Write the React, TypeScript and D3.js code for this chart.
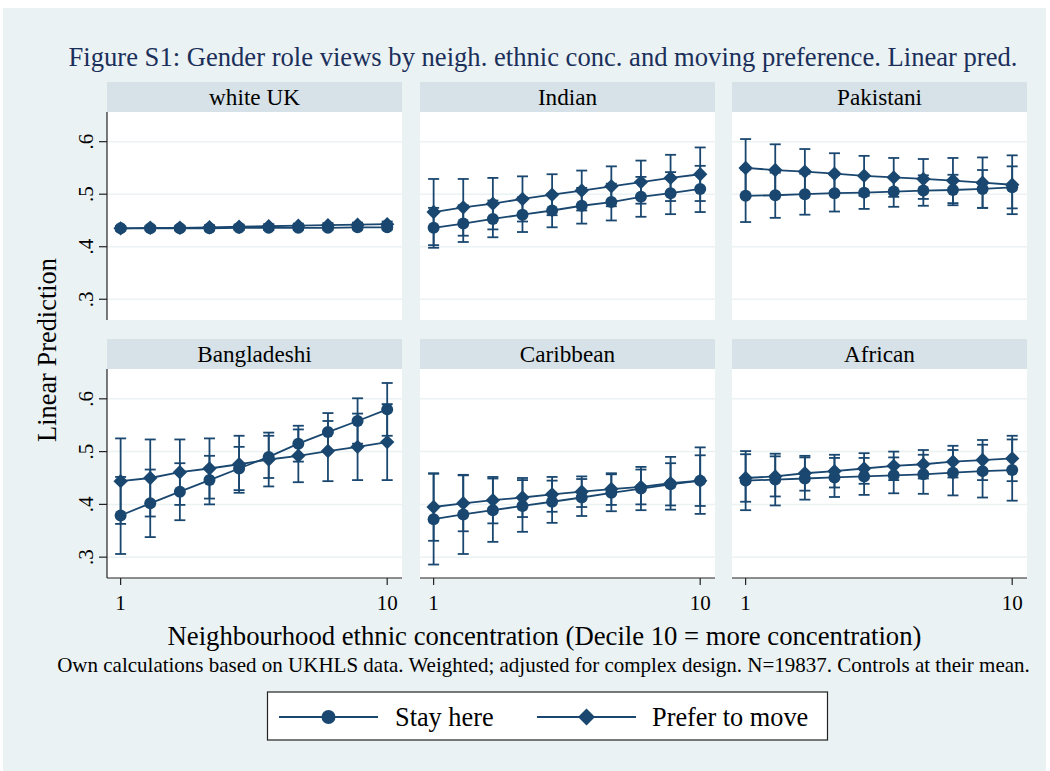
import React from "react";
import * as d3 from "d3";

// Deciles of neighbourhood ethnic concentration
const deciles = [1, 2, 3, 4, 5, 6, 7, 8, 9, 10];
const groups = ["white UK", "Indian", "Pakistani", "Bangladeshi", "Caribbean", "African"];
const yTicks = [0.3, 0.4, 0.5, 0.6];
const xTicks = [1, 10];

// Linear predictions (stay here / prefer to move) and 95% CI half-widths
const whiteUKStay = [0.435, 0.435, 0.435, 0.435, 0.436, 0.436, 0.436, 0.436, 0.437, 0.437];
const whiteUKStayCI = [0.004, 0.004, 0.004, 0.004, 0.004, 0.004, 0.004, 0.004, 0.004, 0.004];
const whiteUKMove = [0.435, 0.436, 0.436, 0.437, 0.438, 0.439, 0.44, 0.441, 0.442, 0.443];
const whiteUKMoveCI = [0.004, 0.004, 0.004, 0.004, 0.004, 0.004, 0.004, 0.004, 0.004, 0.005];

const indianStay = [0.436, 0.444, 0.453, 0.461, 0.469, 0.478, 0.485, 0.495, 0.502, 0.51];
const indianStayCI = [0.038, 0.035, 0.035, 0.033, 0.032, 0.034, 0.035, 0.038, 0.04, 0.044];
const indianMove = [0.466, 0.475, 0.482, 0.491, 0.499, 0.507, 0.515, 0.523, 0.531, 0.538];
const indianMoveCI = [0.063, 0.054, 0.049, 0.043, 0.039, 0.038, 0.038, 0.041, 0.044, 0.051];

const pakistaniStay = [0.497, 0.498, 0.5, 0.502, 0.503, 0.505, 0.507, 0.508, 0.51, 0.513];
const pakistaniStayCI = [0.05, 0.043, 0.039, 0.035, 0.031, 0.029, 0.029, 0.029, 0.036, 0.04];
const pakistaniMove = [0.55, 0.546, 0.543, 0.539, 0.535, 0.532, 0.529, 0.526, 0.522, 0.518];
const pakistaniMoveCI = [0.055, 0.049, 0.043, 0.039, 0.038, 0.037, 0.038, 0.043, 0.048, 0.056];

const bangladeshiStay = [0.379, 0.402, 0.424, 0.446, 0.468, 0.49, 0.515, 0.537, 0.558, 0.58];
const bangladeshiStayCI = [0.073, 0.064, 0.054, 0.046, 0.041, 0.04, 0.034, 0.036, 0.043, 0.05];
const bangladeshiMove = [0.444, 0.45, 0.461, 0.468, 0.476, 0.485, 0.492, 0.501, 0.509, 0.518];
const bangladeshiMoveCI = [0.081, 0.073, 0.062, 0.057, 0.054, 0.051, 0.05, 0.057, 0.063, 0.072];

const caribbeanStay = [0.372, 0.381, 0.389, 0.397, 0.405, 0.413, 0.422, 0.43, 0.438, 0.445];
const caribbeanStayCI = [0.086, 0.075, 0.06, 0.049, 0.04, 0.035, 0.035, 0.041, 0.04, 0.048];
const caribbeanMove = [0.395, 0.402, 0.408, 0.413, 0.419, 0.424, 0.429, 0.433, 0.44, 0.445];
const caribbeanMoveCI = [0.064, 0.053, 0.044, 0.037, 0.033, 0.029, 0.03, 0.033, 0.05, 0.063];

const africanStay = [0.445, 0.447, 0.449, 0.451, 0.453, 0.455, 0.457, 0.46, 0.463, 0.465];
const africanStayCI = [0.056, 0.049, 0.04, 0.037, 0.035, 0.034, 0.037, 0.043, 0.05, 0.058];
const africanMove = [0.45, 0.453, 0.459, 0.463, 0.468, 0.473, 0.476, 0.481, 0.484, 0.487];
const africanMoveCI = [0.045, 0.038, 0.033, 0.031, 0.029, 0.027, 0.027, 0.03, 0.038, 0.043];

const stayByGroup = [whiteUKStay, indianStay, pakistaniStay, bangladeshiStay, caribbeanStay, africanStay];
const stayCIByGroup = [whiteUKStayCI, indianStayCI, pakistaniStayCI, bangladeshiStayCI, caribbeanStayCI, africanStayCI];
const moveByGroup = [whiteUKMove, indianMove, pakistaniMove, bangladeshiMove, caribbeanMove, africanMove];
const moveCIByGroup = [whiteUKMoveCI, indianMoveCI, pakistaniMoveCI, bangladeshiMoveCI, caribbeanMoveCI, africanMoveCI];

const W = 1050;
const H = 771;
const NAVY = "#1a476f";
const BG = "#eaf2f3";
const STRIP = "#d6e2e7";
const FONT = "'Liberation Serif', 'Times New Roman', serif";

const colLeft = [107, 420, 732];
const panelW = 295;
const stripTop = [82, 339];
const stripH = 30;
const plotTop = [112, 369];
const plotBottom = [320, 578];

const diamond = (r: number) => `M0,${-r}L${r},0L0,${r}L${-r},0Z`;

function Series({ x, y, vals, ci, kind }: any) {
  const line = d3
    .line<number>()
    .x((_, i) => x(deciles[i]))
    .y((v) => y(v));
  const cap = 5.5;
  return (
    <g>
      {vals.map((v: number, i: number) => {
        const cx = x(deciles[i]);
        const lo = y(v - ci[i]);
        const hi = y(v + ci[i]);
        return (
          <g key={i} stroke={NAVY} strokeWidth={1.8}>
            <line x1={cx} x2={cx} y1={lo} y2={hi} />
            <line x1={cx - cap} x2={cx + cap} y1={lo} y2={lo} />
            <line x1={cx - cap} x2={cx + cap} y1={hi} y2={hi} />
          </g>
        );
      })}
      <path d={line(vals) || ""} fill="none" stroke={NAVY} strokeWidth={1.8} />
      {vals.map((v: number, i: number) =>
        kind === "circle" ? (
          <circle key={i} cx={x(deciles[i])} cy={y(v)} r={6} fill={NAVY} />
        ) : (
          <path key={i} d={diamond(7.2)} transform={`translate(${x(deciles[i])},${y(v)})`} fill={NAVY} />
        )
      )}
    </g>
  );
}

function Panel({ gi }: { gi: number }) {
  const row = Math.floor(gi / 3);
  const col = gi % 3;
  const left = colLeft[col];
  const x = d3.scaleLinear().domain([0.54, 10.5]).range([left, left + panelW]);
  const y = d3.scaleLinear().domain([0.2605, 0.6565]).range([plotBottom[row], plotTop[row]]);
  const top = plotTop[row];
  const bottom = plotBottom[row];
  return (
    <g>
      <rect x={left} y={stripTop[row]} width={panelW} height={stripH} fill={STRIP} />
      <text
        x={left + panelW / 2}
        y={stripTop[row] + 23}
        textAnchor="middle"
        fontFamily={FONT}
        fontSize={23.2}
        fill="#000"
      >
        {groups[gi]}
      </text>
      <rect x={left} y={top} width={panelW} height={bottom - top} fill="#fff" />
      {yTicks.map((t) => (
        <line key={t} x1={left} x2={left + panelW} y1={y(t)} y2={y(t)} stroke={BG} strokeWidth={1.5} />
      ))}
      {col === 0 && (
        <g>
          <line x1={left} x2={left} y1={top} y2={bottom} stroke="#222" strokeWidth={1.2} />
          {yTicks.map((t) => (
            <g key={t}>
              <line x1={left - 8} x2={left} y1={y(t)} y2={y(t)} stroke="#222" strokeWidth={1.2} />
              <text
                transform={`translate(${left - 14},${y(t)}) rotate(-90)`}
                textAnchor="middle"
                fontFamily={FONT}
                fontSize={21}
                fill="#000"
              >
                {String(t).replace(/^0/, "")}
              </text>
            </g>
          ))}
        </g>
      )}
      {row === 1 && (
        <g>
          <line x1={left} x2={left + panelW} y1={bottom} y2={bottom} stroke="#222" strokeWidth={1.2} />
          {xTicks.map((t) => (
            <g key={t}>
              <line x1={x(t)} x2={x(t)} y1={bottom} y2={bottom + 7} stroke="#222" strokeWidth={1.2} />
              <text x={x(t)} y={bottom + 32} textAnchor="middle" fontFamily={FONT} fontSize={21} fill="#000">
                {t}
              </text>
            </g>
          ))}
        </g>
      )}
      <Series x={x} y={y} vals={stayByGroup[gi]} ci={stayCIByGroup[gi]} kind="circle" />
      <Series x={x} y={y} vals={moveByGroup[gi]} ci={moveCIByGroup[gi]} kind="diamond" />
    </g>
  );
}

export default function App() {
  return (
    <svg
      width={W}
      height={H}
      style={{ position: "absolute", left: 0, top: 0, display: "block" }}
      xmlns="http://www.w3.org/2000/svg"
    >
      <rect x={0} y={0} width={W} height={H} fill="#fff" />
      <rect x={3} y={8} width={1043} height={H - 8} fill={BG} />
      <text x={543} y={66} textAnchor="middle" fontFamily={FONT} fontSize={26.6} fill="#1a2f5a">
        Figure S1: Gender role views by neigh. ethnic conc. and moving preference. Linear pred.
      </text>
      <text
        transform="translate(56,350) rotate(-90)"
        textAnchor="middle"
        fontFamily={FONT}
        fontSize={26.4}
        fill="#000"
      >
        Linear Prediction
      </text>
      {groups.map((_, gi) => (
        <Panel key={gi} gi={gi} />
      ))}
      <text x={544.5} y={645} textAnchor="middle" fontFamily={FONT} fontSize={26.7} fill="#000">
        Neighbourhood ethnic concentration (Decile 10 = more concentration)
      </text>
      <text x={543.5} y={672} textAnchor="middle" fontFamily={FONT} fontSize={21} fill="#000">
        Own calculations based on UKHLS data. Weighted; adjusted for complex design. N=19837. Controls at their mean.
      </text>
      <g>
        <rect x={267.5} y={692} width={560} height={48} fill="#fff" stroke="#222" strokeWidth={1.2} />
        <line x1={279} x2={378} y1={717} y2={717} stroke={NAVY} strokeWidth={2} />
        <circle cx={328.5} cy={717} r={7} fill={NAVY} />
        <text x={395} y={726} fontFamily={FONT} fontSize={26.3} fill="#000">
          Stay here
        </text>
        <line x1={537} x2={636} y1={717} y2={717} stroke={NAVY} strokeWidth={2} />
        <path d={diamond(8.5)} transform="translate(586.5,717)" fill={NAVY} />
        <text x={652} y={726} fontFamily={FONT} fontSize={26.3} fill="#000">
          Prefer to move
        </text>
      </g>
    </svg>
  );
}
